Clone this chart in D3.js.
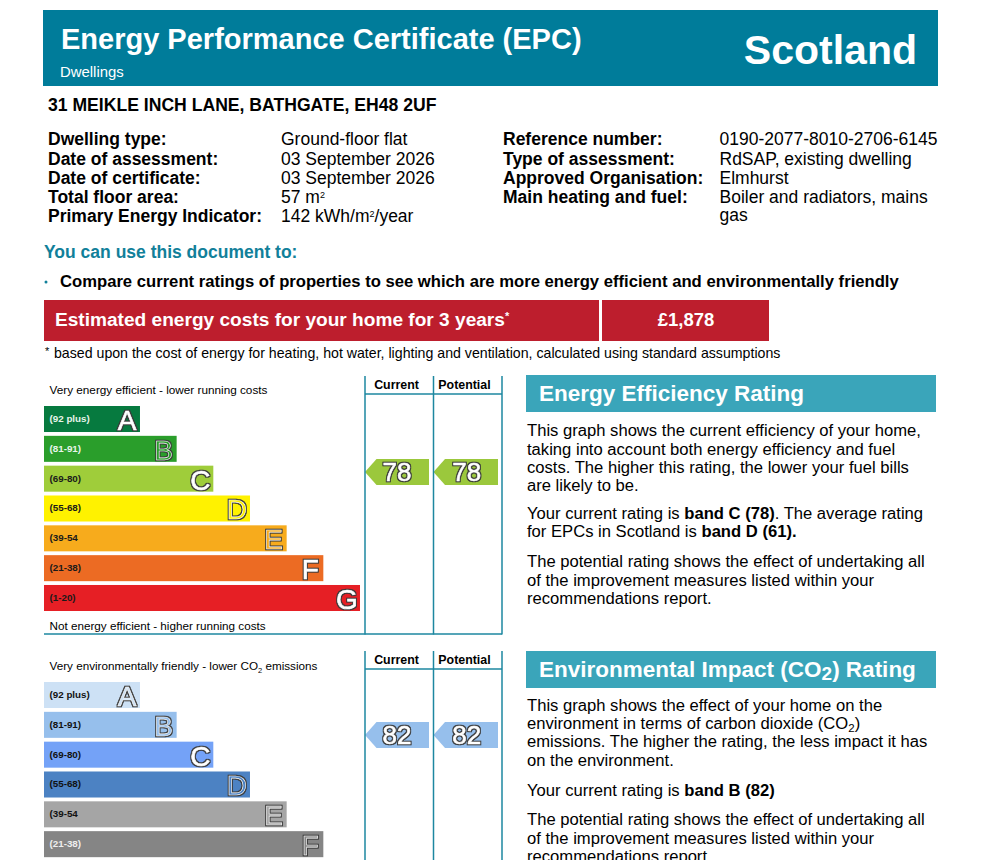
<!DOCTYPE html>
<html><head><meta charset="utf-8">
<script src="https://cdn.jsdelivr.net/npm/d3@7"></script>
<style>
html,body{margin:0;padding:0;background:#fff;overflow:hidden}
svg{display:block;font-family:"Liberation Sans",Arial,sans-serif}
</style></head><body>
<svg id="c" width="987" height="860">
<defs><filter id="edge" x="-20%" y="-20%" width="140%" height="140%" color-interpolation-filters="sRGB">
<feMorphology in="SourceAlpha" operator="dilate" radius="0.65" result="fat"/>
<feFlood flood-color="#3a3a3a"/><feComposite in2="fat" operator="in" result="dark"/>
<feMerge><feMergeNode in="dark"/><feMergeNode in="SourceGraphic"/></feMerge>
</filter></defs>
</svg>
<script>
const bandLetters = ["A","B","C","D","E","F","G"];
const bandRanges = ["(92 plus)","(81-91)","(69-80)","(55-68)","(39-54","(21-38)","(1-20)"];
const bandLengths = [1,2,3,4,5,6,7];
const energyColors = ["#067a3f","#2a9e2b","#9fcd3a","#fff200","#f7ab1c","#ec6b23","#e61f25"];
const energyLabelColors = ["#e8f5ea","#e8f5ea","#1a1a1a","#1a1a1a","#1a1a1a","#1a1a1a","#1a1a1a"];
const co2Colors = ["#cde1f5","#96bfec","#74a2f7","#4c82c3","#a5a5a5","#858585","#6a6a6a"];
const co2LabelColors = ["#111","#111","#111","#111","#111","#eee","#eee"];
const energyHollow = ["B","D","E"], co2Hollow = ["A","B","D","E","F"];
const energyCurrent = 78, energyPotential = 78;
const co2Current = 82, co2Potential = 82;
const energyArrowColor = "#9bc83c", co2ArrowColor = "#96bfec";
const detailsLeft = [["Dwelling type:","Ground-floor flat"],["Date of assessment:","03 September 2026"],["Date of certificate:","03 September 2026"],["Total floor area:","57 m|2"],["Primary Energy Indicator:","142 kWh/m|2|/year"]];
const detailsRight = [["Reference number:","0190-2077-8010-2706-6145"],["Type of assessment:","RdSAP, existing dwelling"],["Approved Organisation:","Elmhurst"],["Main heating and fuel:","Boiler and radiators, mains"],["","gas"]];
const energyParas = [
 [[0,"This graph shows the current efficiency of your home,"],[0,"taking into account both energy efficiency and fuel"],[0,"costs. The higher this rating, the lower your fuel bills"],[0,"are likely to be."]],
 [[0,"Your current rating is ",1,"band C (78)",0,". The average rating"],[0,"for EPCs in Scotland is ",1,"band D (61)."]],
 [[0,"The potential rating shows the effect of undertaking all"],[0,"of the improvement measures listed within your"],[0,"recommendations report."]]
];
const co2Paras = [
 [[0,"This graph shows the effect of your home on the"],[0,"environment in terms of carbon dioxide (CO",2,"2",0,")"],[0,"emissions. The higher the rating, the less impact it has"],[0,"on the environment."]],
 [[0,"Your current rating is ",1,"band B (82)"]],
 [[0,"The potential rating shows the effect of undertaking all"],[0,"of the improvement measures listed within your"],[0,"recommendations report."]]
];

const svg = d3.select("#c");
const TEAL="#007c9a", LINE="#1d87a0", HEAD="#3aa5ba", RED="#bd1e2d";

function txt(x,y,s,size,o={}){
  return svg.append("text").attr("x",x).attr("y",y).attr("font-size",size)
    .attr("font-weight",o.bold?700:400).attr("fill",o.fill||"#000")
    .attr("text-anchor",o.anchor||"start").text(s);
}
function rect(x,y,w,h,f){svg.append("rect").attr("x",x).attr("y",y).attr("width",w).attr("height",h).attr("fill",f);}
function line(x1,y1,x2,y2,w){svg.append("line").attr("x1",x1).attr("y1",y1).attr("x2",x2).attr("y2",y2).attr("stroke",LINE).attr("stroke-width",w||1.5);}

// Header
rect(43,10,895,76,TEAL);
txt(61,48.5,"Energy Performance Certificate (EPC)",29,{bold:1,fill:"#fff"});
txt(60,77,"Dwellings",14.9,{fill:"#fff"});
txt(917,64,"Scotland",41,{bold:1,fill:"#fff",anchor:"end"});
txt(48,111,"31 MEIKLE INCH LANE, BATHGATE, EH48 2UF",17.6,{bold:1});

const rowY=[145,165,184,203,222];
function detail(rows,x1,x2,ys){
  rows.forEach((r,i)=>{
    if(r[0]) txt(x1,ys[i],r[0],17.5,{bold:1});
    const parts=r[1].split("|");
    const t=txt(x2,ys[i],"",17.5);
    parts.forEach((p,k)=>{
      const sp=t.append("tspan").text(p);
      if(k%2==1) sp.attr("font-size",9).attr("dy",-5);
      else if(k>0) sp.attr("dy",5);
    });
  });
}
detail(detailsLeft,48,281,rowY);
detail(detailsRight,503,719.5,[145,165,184,203,220.5]);

txt(44,258,"You can use this document to:",17.5,{bold:1,fill:"#11809a"});
svg.append("circle").attr("cx",46).attr("cy",282).attr("r",1.5).attr("fill","#11809a");
txt(60,287,"Compare current ratings of properties to see which are more energy efficient and environmentally friendly",16.65,{bold:1});

rect(44,300,555,41,RED); rect(602,300,167,41,RED);
const est=txt(55,326,"Estimated energy costs for your home for 3 years",19.1,{bold:1,fill:"#fff"});
est.append("tspan").attr("font-size",11).attr("dy",-6).text("*");
txt(686,326,"£1,878",18.5,{bold:1,fill:"#fff",anchor:"middle"});
txt(45,355,"*",11);
txt(54,358,"based upon the cost of energy for heating, hot water, lighting and ventilation, calculated using standard assumptions",14.17);

// Rating chart
const bandX=44;
const lengthScale=d3.scaleLinear().domain([0,7]).range([59.3,316]);
function letter(g,x,y,s,size,fill){
  g.append("text").attr("x",x).attr("y",y).attr("font-size",size).attr("text-anchor","middle")
   .attr("fill",fill).attr("stroke","#fff").attr("stroke-width",0.6).attr("filter","url(#edge)").text(s);
}
function chart(o){
  const yBand=d3.scaleBand().domain(bandLetters).range([o.top,o.top+205]).paddingInner(0.128).paddingOuter(0);
  const yRating=d3.scaleLinear().domain([82,78]).range([o.top+53,o.top+66]);
  const g=svg.append("g");
  bandLetters.forEach((L,i)=>{
    const y=yBand(L), h=yBand.bandwidth(), w=lengthScale(bandLengths[i]);
    if(y>=860) return;
    g.append("rect").attr("x",bandX).attr("y",y).attr("width",w).attr("height",h).attr("fill",o.colors[i]);
    g.append("text").attr("x",49.5).attr("y",y+16).attr("font-size",9.8).attr("font-weight",700).attr("fill",o.labels[i]).text(o.ranges[i]);
    letter(g,bandX+w-13,y+24,L,28,o.hollow.includes(L)?o.colors[i]:"#fff");
  });
  [365,433.5,502].forEach(x=>line(x,o.frameTop,x,o.frameBottom));
  line(365,o.headY,502,o.headY);
  txt(396.5,o.headY-5,"Current",12.4,{bold:1,anchor:"middle"});
  txt(464.5,o.headY-5,"Potential",12.4,{bold:1,anchor:"middle"});
  [[o.current,0],[o.potential,1]].forEach(([v,k])=>{
    const cy=yRating(v), x0=k?433.5:365, x1=k?498:429;
    const bodyX=x0+11.5;
    g.append("path").attr("d",d3.line()([[x0,cy],[bodyX,cy-13],[x1,cy-13],[x1,cy+13],[bodyX,cy+13]])+"Z").attr("fill",o.arrow);
    letter(g,(k?466.7:397),cy+9,String(v),26,"#fff");
  });
}
chart({top:406,frameTop:376,headY:394,frameBottom:634.5,colors:energyColors,labels:energyLabelColors,ranges:bandRanges,hollow:energyHollow,current:energyCurrent,potential:energyPotential,arrow:energyArrowColor});
line(44,634,502,634);
txt(49.5,394,"Very energy efficient - lower running costs",11.75);
txt(49.5,630,"Not energy efficient - higher running costs",11.7);

chart({top:682,frameTop:651,headY:669,frameBottom:860,colors:co2Colors,labels:co2LabelColors,ranges:bandRanges,hollow:co2Hollow,current:co2Current,potential:co2Potential,arrow:co2ArrowColor});
const vt=txt(49.5,670,"Very environmentally friendly - lower CO",11.7);
vt.append("tspan").attr("font-size",7.5).attr("dy",2.5).text("2");
vt.append("tspan").attr("dy",-2.5).text(" emissions");

// Right panels
function panel(top,h,parts,paras,ys){
  rect(526,top,410,h,HEAD);
  const t=txt(539,top+26,"",22.5,{bold:1,fill:"#fff"});
  parts.forEach(p=>{
    const sp=t.append("tspan").text(p[1]);
    if(p[0]==2) sp.attr("font-size",19).attr("dy",3);
    else if(p[0]==3) sp.attr("dy",-3);
  });
  let n=0;
  paras.forEach(pa=>pa.forEach(l=>{
    const tx=txt(527,ys[n++],"",16.62);
    let shift=0;
    for(let i=0;i<l.length;i+=2){
      const sp=tx.append("tspan").text(l[i+1]);
      if(l[i]==1) sp.attr("font-weight",700);
      if(l[i]==2){sp.attr("font-size",11.5).attr("dy",3);shift=1;}
      else if(shift){sp.attr("dy",-3);shift=0;}
    }
  }));
}
panel(375,37,[[0,"Energy Efficiency Rating"]],energyParas,[436,455,473,491,519,537,567,586,604]);
panel(651,37,[[0,"Environmental Impact (CO"],[2,"2"],[3,") Rating"]],co2Paras,[711,729,747,766,796,825,844,862]);
</script>
</body></html>
